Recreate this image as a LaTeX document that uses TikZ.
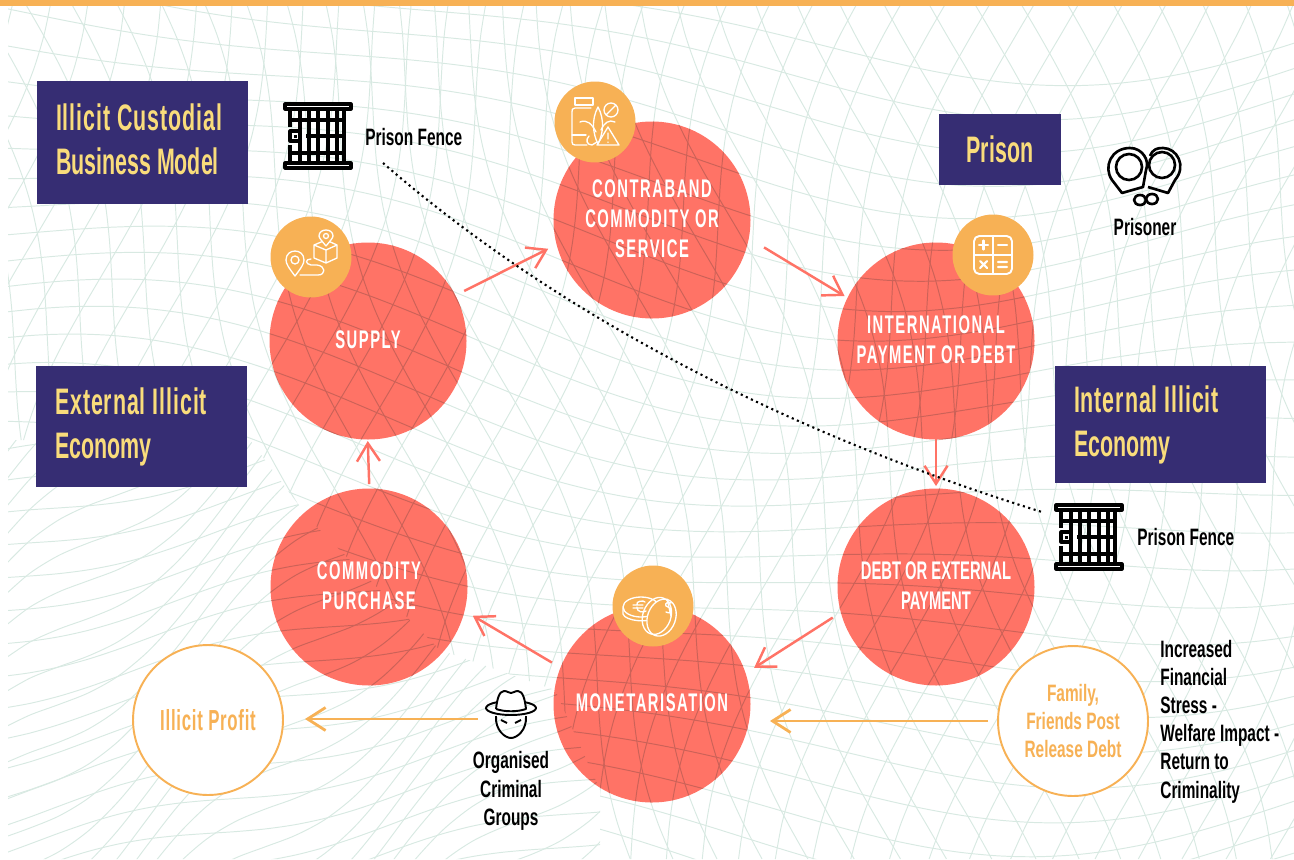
\documentclass[tikz,border=0pt]{standalone}
\usepackage{fontspec}
\usepackage{xcolor}
\usetikzlibrary{arrows.meta, positioning, calc}

\newfontfamily\condfont[FakeStretch=0.65]{Liberation Sans}
\newfontfamily\titlefont[FakeStretch=0.58]{Liberation Sans}
\newfontfamily\titlewide[FakeStretch=0.58,LetterSpace=2.5]{Liberation Sans}
\newfontfamily\capsfont[FakeStretch=0.58,LetterSpace=6]{Liberation Sans}
\newfontfamily\tightcaps[FakeStretch=0.58]{Liberation Sans}

\definecolor{coralred}{HTML}{FF7366}
\definecolor{amberorange}{HTML}{F7B155}
\definecolor{inkblue}{HTML}{362D73}
\definecolor{paleyellow}{HTML}{F9DC7B}
\definecolor{meshgreen}{HTML}{D8E9E2}
\definecolor{meshdark}{HTML}{CC6258}

% wavy lines of the backdrop
\newcommand{\meshlines}[1]{%
  \begin{scope}
    \clip (8,6) -- (1294,6) -- (1294,859) -- (600,859) -- (600,790) -- (555,690) -- (440,650) -- (310,520) -- (250,440) -- (8,440) -- cycle;
    \foreach \xo in {-300,-260,...,1600} {
      \draw[#1,line width=0.55pt] plot[domain=0:859,samples=26,smooth,variable=\t]
        ({\xo+0.32*\t+26*sin(\t*0.6+\xo*0.35)},\t);
      \draw[#1,line width=0.55pt] plot[domain=0:859,samples=26,smooth,variable=\t]
        ({\xo-0.32*\t+26*sin(\t*0.6-\xo*0.25)+250},\t);
    }
    \foreach \yo in {-40,-8,...,880} {
      \draw[#1,line width=0.55pt] plot[domain=0:1294,samples=36,smooth,variable=\t]
        (\t,{\yo+24*sin(\t*0.42+\yo*0.5)+0.05*\t-60*cos(\t*0.2)});
    }
  \end{scope}
  \begin{scope}
    \clip (8,440) -- (250,440) -- (310,520) -- (440,650) -- (555,690) -- (600,790) -- (600,859) -- (8,859) -- cycle;
    \foreach \yo in {400,432,...,1500} {
      \draw[#1,line width=0.55pt] plot[domain=0:620,samples=22,smooth,variable=\t]
        (\t,{\yo-0.85*\t+26*sin(\t*1.1+\yo*0.4)});
    }
    \foreach \yo in {400,430,...,1000} {
      \draw[#1,line width=0.55pt] plot[domain=0:620,samples=22,smooth,variable=\t]
        (\t,{\yo-0.22*\t+10*sin(\t*0.9+\yo*0.6)});
    }
  \end{scope}
}

\tikzset{
  stopcircle/.style={circle,minimum size=3.92cm,inner sep=0pt,outer sep=0.2cm,align=center,text=white,
    font=\capsfont\bfseries\fontsize{14.5}{17}\selectfont},
  endcircle/.style={circle,draw=amberorange,fill=white,line width=1.1pt,minimum size=3cm,inner sep=0pt,outer sep=0.2cm,
    align=center,text=amberorange,font=\condfont\bfseries\fontsize{13.5}{16}\selectfont},
  titlebox/.style={rectangle,fill=inkblue,text=paleyellow,inner ysep=0pt,align=flush left,
    font=\titlefont\bfseries\fontsize{21}{25}\selectfont},
  blacklabel/.style={text=black,inner sep=0pt,font=\condfont\bfseries\fontsize{13.5}{16}\selectfont},
  iconslot/.style={circle,fill=amberorange,minimum size=1.62cm,inner sep=0pt},
  flow/.style={-{Straight Barb[length=0.36cm,width=0.46cm]},coralred,line width=1.4pt},
  flowback/.style={-{Straight Barb[length=0.36cm,width=0.46cm]},amberorange,line width=1.6pt},
  iconwhite/.style={draw=white,line width=0.75pt,line join=round,line cap=round},
  iconblack/.style={draw=black,line width=1.8pt,line join=round},
  fencegate/.pic={
    \foreach \barx in {-18,-9,0,10,19,26} \draw[iconblack] (\barx,-27) -- (\barx,27);
    \draw[iconblack] (-28,-27) -- (-28,-9) (-28,9) -- (-28,27);
    \draw[iconblack] (-28,-16) -- (26,-16) (-12,0) -- (26,0) (-28,17) -- (26,17);
    \draw[iconblack,fill=white] (-33,-32) rectangle (33,-27) (-33,27) rectangle (33,32);
    \draw[iconblack,fill=white] (-28,-5) rectangle (-18,5);
    \fill (-24.5,-1.5) rectangle (-21.5,1.5);
  },
  cuffs/.pic={
    \draw[iconblack,line width=1.5pt] (5,-16) .. controls (8,-23) and (12,-24) .. (18,-24) .. controls (32,-24) and (42,-6) .. (30,8) -- (23,21) -- (3,15);
    \draw[iconblack,line width=1.5pt] (17,-7) circle[radius=13];
    \draw[iconblack,line width=1.5pt,fill=white] (-33,8) .. controls (-42,-5) and (-34,-24) .. (-15,-24) .. controls (-3,-24) and (5,-12) .. (1,-2) -- (-2,15) -- (-23,21) -- cycle;
    \draw[iconblack,line width=1.5pt] (-16,-5) circle[radius=13];
    \draw[iconblack,line width=1.5pt] (-5,28) ellipse[x radius=6,y radius=5];
    \draw[iconblack,line width=1.5pt] (7,27) ellipse[x radius=6,y radius=5];
  },
  hatman/.pic={
    \draw[iconblack,line width=1.1pt] (0,-8) ellipse[x radius=25,y radius=7];
    \draw[iconblack,line width=1.1pt,fill=white] (-15,-7) .. controls (-14,-16) and (-12,-25) .. (-7,-25) .. controls (-3,-25) and (-3,-23) .. (0,-23) .. controls (3,-23) and (3,-25) .. (7,-25) .. controls (12,-25) and (14,-16) .. (15,-7) .. controls (6,-4) and (-6,-4) .. (-15,-7);
    \draw[iconblack,line width=1.1pt] (-15,0) .. controls (-16,14) and (-6,22) .. (0,22) .. controls (6,22) and (16,14) .. (15,0);
    \draw[iconblack,line width=1.1pt] (-10,4) -- (-4,7) (10,4) -- (4,7);
  },
  pillsicon/.pic={
    \draw[iconwhite] (-20,-24) rectangle (-2,-17);
    \draw[iconwhite] (-4,-14) -- (-20,-14) .. controls (-23,-14) and (-23,-12) .. (-23,-10) -- (-23,20) .. controls (-23,22) and (-22,23) .. (-20,23) -- (-8,23);
    \draw[iconwhite] (-23,13) -- (-9,13);
    \draw[iconwhite] (3,-15) .. controls (-4,-2) and (-2,12) .. (3,22) .. controls (8,12) and (10,-2) .. (3,-15);
    \draw[iconwhite] (-15,0) .. controls (-8,-3) and (-3,2) .. (1,10);
    \draw[iconwhite] (20,0) .. controls (14,-3) and (9,1) .. (6,8);
    \draw[iconwhite] (-6,14) .. controls (-10,18) and (-8,23) .. (-3,23) -- (2,20);
    \draw[iconwhite] (16,-12) circle[radius=7] (11,-7) -- (21,-17);
    \draw[iconwhite] (13,5) -- (2,23) -- (24,23) -- cycle (13,11) -- (13,17) (13,20) -- (13,20.5);
  },
  routeicon/.pic={
    \draw[iconwhite] (-16,19) .. controls (-22,11) and (-25,7) .. (-25,3) .. controls (-25,-9) and (-7,-9) .. (-7,3) .. controls (-7,7) and (-10,11) .. (-16,19);
    \draw[iconwhite] (-16,3) circle[radius=4];
    \draw[iconwhite] (-11,18) -- (7,18) .. controls (15,18) and (15,9) .. (6,8) -- (0,8) .. controls (-6,7) and (-6,2) .. (0,2);
    \draw[iconwhite] (3,-12) -- (15,-17) -- (26,-12) -- (26,1) -- (15,6) -- (3,1) -- cycle (3,-12) -- (15,-7) -- (26,-12) (15,-7) -- (15,6);
    \draw[iconwhite,fill=amberorange] (15,-11) .. controls (11,-16) and (8,-19) .. (8,-21) .. controls (8,-29) and (22,-29) .. (22,-21) .. controls (22,-19) and (19,-16) .. (15,-11);
    \draw[iconwhite] (15,-21) circle[radius=2.5];
  },
  calcicon/.pic={
    \draw[iconwhite,line width=1.1pt,rounded corners=3pt] (-19,-19) rectangle (19,19);
    \draw[iconwhite,line width=1.1pt] (0,-19) -- (0,19) (-19,0) -- (19,0);
    \draw[iconwhite,line width=1.2pt] (-14,-10) -- (-5,-10) (-9.5,-14.5) -- (-9.5,-5.5) (5,-10) -- (14,-10);
    \draw[iconwhite,line width=1.2pt] (-13,6) -- (-6,13) (-6,6) -- (-13,13) (5,7) -- (14,7) (5,12) -- (14,12);
  },
  coinsicon/.pic={
    \draw[iconwhite] (-12,1) ellipse[x radius=18,y radius=10];
    \draw[iconwhite] (-30,2) -- (-30,8) .. controls (-28,15) and (-4,18) .. (7,10);
    \draw[iconwhite] (-16,-1) .. controls (-18,-5) and (-9,-6) .. (-8,-4) (-16,1) .. controls (-17,6) and (-9,7) .. (-7,5) (-20,-1) -- (-10,-1) (-20,2) -- (-10,2);
    \draw[iconwhite,fill=amberorange,rotate=-20] (12,8) ellipse[x radius=14,y radius=19];
    \draw[iconwhite,rotate=-20] (7,8) ellipse[x radius=14,y radius=19];
    \draw[iconwhite] (18,-3) .. controls (12,-6) and (11,1) .. (15,1) .. controls (20,2) and (19,9) .. (13,6) (14,-7) -- (18,10);
  },
}

\begin{document}
\begin{tikzpicture}[x=0.02cm,y=-0.02cm]
    \useasboundingbox (0,0) rectangle (1294,859);

    % Sfondo
    \meshlines{meshgreen}
    \fill[amberorange] (0,0) rectangle (1294,6);

    % Cerchi
    \foreach \cx/\cy in {652/220,936/341,936/587,652/704,369/587,368/341}
        \fill[coralred] (\cx,\cy) circle[radius=98.5];
    \begin{scope}
        \clip (652,220) circle[radius=98.5] (936,341) circle[radius=98.5] (936,587) circle[radius=98.5]
              (652,704) circle[radius=98.5] (369,587) circle[radius=98.5] (368,341) circle[radius=98.5];
        \meshlines{meshdark}
    \end{scope}

    \node[stopcircle] (contraband) at (652,219) {CONTRABAND\\COMMODITY OR\\SERVICE};
    \node[stopcircle] (payment) at (936,340) {INTERNATIONAL\\PAYMENT OR DEBT};
    \node[stopcircle,font=\tightcaps\bfseries\fontsize{14.5}{17}\selectfont] (debt) at (936,586) {DEBT OR EXTERNAL\\PAYMENT};
    \node[stopcircle] (monetarisation) at (652,703) {MONETARISATION};
    \node[stopcircle] (purchase) at (369,586) {COMMODITY\\PURCHASE};
    \node[stopcircle] (supply) at (368,340) {SUPPLY};

    % Frecce del ciclo
    \draw[flow] (supply.27) -- (contraband.196);
    \draw[flow,shorten <=0.16cm,shorten >=-0.13cm] (contraband.-13) -- (payment.154);
    \draw[flow,shorten <=-0.18cm,shorten >=-0.16cm] (payment.-90) -- (debt.90);
    \draw[flow] (debt.197) -- (monetarisation.19);
    \draw[flow] (monetarisation.158) -- (purchase.-16);
    \draw[flow,shorten <=-0.12cm,shorten >=-0.14cm] (purchase.90) -- (supply.-90);

    % Icone sui cerchi
    \node[iconslot] (pillsslot) at (595,122) {};
    \pic at (pillsslot) {pillsicon};
    \node[iconslot] (routeslot) at (311,257) {};
    \pic at (routeslot) {routeicon};
    \node[iconslot] (calcslot) at (993,255) {};
    \pic at (calcslot) {calcicon};
    \node[iconslot] (coinsslot) at (653,606) {};
    \pic at (coinsslot) {coinsicon};

    % Titoli
    \node[titlebox,minimum width=4.22cm,minimum height=2.46cm,text width=3.46cm,inner xsep=0.38cm] (modeltitle) at (142.5,142.5) {{\titlewide Illicit Custodial}\\Business Model\vphantom{y}};
    \node[titlebox,minimum width=2.44cm,minimum height=1.42cm,inner xsep=0pt,align=center] (prisontitle) at (1000,149.5) {Prison};
    \node[titlebox,minimum width=4.22cm,minimum height=2.42cm,text width=3.46cm,inner xsep=0.38cm] (externaltitle) at (141.5,426.5) {{\titlewide External Illicit}\\Economy};
    \node[titlebox,minimum width=4.22cm,minimum height=2.34cm,text width=3.46cm,inner xsep=0.38cm] (internaltitle) at (1160.5,424.5) {{\titlewide Internal Illicit}\\Economy};

    % Recinzioni e linea punteggiata
    \pic at (318,136) {fencegate};
    \node[blacklabel,anchor=west] (fencetop) at (365,137) {Prison Fence};
    \pic at (1089,537) {fencegate};
    \node[blacklabel,anchor=west] (fencelow) at (1137,537) {Prison Fence};
    \coordinate (dotstart) at (383,163);
    \coordinate (dotend) at (1042,512);
    \draw[dotted,line width=1.2pt] (dotstart) .. controls (573,328) and (810,440) .. (dotend);

    % Prigioniero
    \pic at (1145,172) {cuffs};
    \node[blacklabel] (prisoner) at (1145,227) {Prisoner};

    % Uscite
    \node[endcircle,font=\titlewide\bfseries\fontsize{16.5}{16}\selectfont] (profit) at (208,720) {Illicit Profit};
    \node[endcircle] (family) at (1073,721) {Family,\\Friends Post\\Release Debt};
    \node[minimum width=1.32cm,minimum height=1cm,inner sep=0pt] (gangster) at (511,719) {};
    \pic at (511,716) {hatman};
    \node[blacklabel,align=center,below=0.14cm of gangster] (groups) {Organised\\Criminal\\Groups};
    \node[blacklabel,align=left,anchor=north west] (stress) at (1160,640) {Increased\\Financial\\Stress -\\Welfare Impact -\\Return to\\Criminality};
    \draw[flowback,shorten >=0.2cm] (family.west) -- (monetarisation.east |- family.west);
    \draw[flowback,shorten >=0.24cm] (gangster.west) -- (profit.east |- gangster.west);
\end{tikzpicture}
\end{document}
